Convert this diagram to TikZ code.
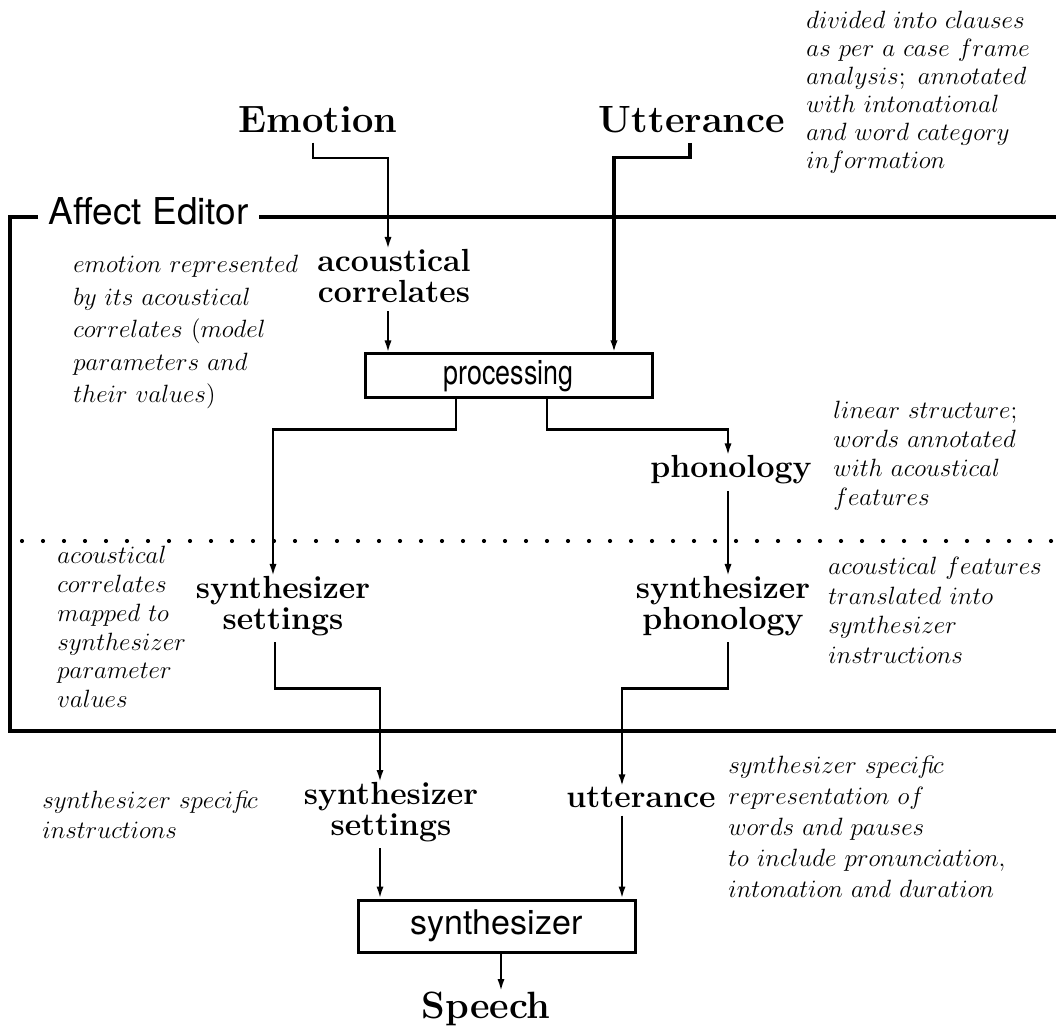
\RequirePackage{fix-cm}
\documentclass[tikz,border=0pt]{standalone}
\usepackage{fontspec}
\newfontfamily\helv{TeX Gyre Heros}
\usetikzlibrary{arrows.meta}

\tikzset{
  big/.style={font=\fontsize{19}{22}\selectfont\bfseries, inner sep=0pt},
  lbl/.style={font=\fontsize{16}{15.5}\selectfont\bfseries, align=center, inner sep=0pt},
  note/.style={font=\fontsize{12.5}{#1}\selectfont, align=left, anchor=north west, inner sep=0pt},
  blok/.style={draw, line width=1.5pt, font=\fontsize{17}{20}\selectfont\helv, inner sep=0pt},
  link/.style={line width=1.1pt, -{Latex[length=6pt,width=3.6pt]}},
  edline/.style={line width=1.6pt},
  dotrow/.style={line width=2.1pt, line cap=round, dash pattern=on 0pt off 10.5pt},
}

\begin{document}
\begin{tikzpicture}[x=0.5pt, y=-0.5pt]
    \useasboundingbox (0,0) rectangle (1056,1026);

    \node[big, anchor=base] (emo) at (318,133) {Emotion};
    \node[big, anchor=base] (utt) at (692,133) {Utterance};
    \node[note=14pt] (uttnote) at (806,11) {$divided\ into\ clauses$\\$as\ per\ a\ case\ frame$\\$analysis;\ annotated$\\$with\ intonational$\\$and\ word\ category$\\$information$};

    % affect editor frame
    \node[font=\fontsize{18.5}{20}\selectfont\helv, anchor=base west, inner sep=5pt] (ed) at (38,225) {Affect Editor};
    \draw[edline] (ed.west |- 10,217) -- (10,217) -- (10,731) -- (1056,731);
    \draw[edline] (ed.east |- 10,217) -- (1056,217);
    \draw[dotrow] (22,541) -- (1056,541);

    \node[note=16.25pt] (emonote) at (73,255) {$emotion\ represented$\\$by\ its\ acoustical$\\$correlates\ (model$\\$parameters\ and$\\$their\ values)$};
    \node[lbl, anchor=north] (acc) at (394,249) {acoustical\\correlates};
    \node[blok, minimum width=143.5pt, minimum height=22pt] (proc) at (508.5,376) {\scalebox{0.79}[1]{processing}};
    \node[lbl, anchor=base] (phon) at (731,478) {phonology};
    \node[note=14.5pt] (phonnote) at (833,401) {$linear\ structure;$\\$words\ annotated$\\$with\ acoustical$\\$features$};

    \node[lbl, anchor=north] (ss1) at (283,576) {synthesizer\\settings};
    \node[note=14.4pt] (ss1note) at (57,546) {$acoustical$\\$correlates$\\$mapped\ to$\\$synthesizer$\\$parameter$\\$values$};
    \node[lbl, anchor=north] (synph) at (723,576) {synthesizer\\phonology};
    \node[note=14.75pt] (synphnote) at (828,557) {$acoustical\ features$\\$translated\ into$\\$synthesizer$\\$instructions$};

    % below the editor
    \node[lbl, anchor=north] (ss2) at (391,782) {synthesizer\\settings};
    \node[note=15pt] (ss2note) at (42,790) {$synthesizer\ speci\mbox{\itshape fi}c$\\$instructions$};
    \node[lbl, anchor=base] (utt2) at (641,807) {utterance};
    \node[note=15.5pt] (utt2note) at (728,755) {$synthesizer\ speci\mbox{\itshape fi}c$\\$representation\ of$\\$words\ and\ pauses$\\$to\ include\ pronunciation,$\\$intonation\ and\ duration$};
    \node[blok, minimum width=138.5pt, minimum height=26pt] (synth) at (496.5,926) {synthesizer};
    \node[big, anchor=base] (speech) at (486,1018) {Speech};

    \draw[link, shorten <=4.5pt] ([xshift=-2.5pt]emo.south) -- ++(0,24) -| ([xshift=-3pt]acc.north);
    \draw[link, line width=1.6pt, shorten <=4.5pt] ([xshift=-1pt]utt.south) -- ++(0,24) -| ([xshift=52.75pt]proc.north);
    \draw[link, shorten <=4pt] ([xshift=-3pt]acc.south) -- ([xshift=-3pt]acc.south |- proc.north);
    \draw[link] ([xshift=-26.25pt]proc.south) -- ++(0,30) -| ([xshift=-5pt]ss1.north);
    \draw[link] ([xshift=19.25pt]proc.south) -- ++(0,30) -| ([xshift=-1.5pt]phon.north);
    \draw[link, shorten <=3pt] ([xshift=-1.5pt]phon.south) -- ([xshift=-1.5pt]phon.south |- synph.north);
    \draw[link, shorten <=3pt] ([xshift=-4pt]ss1.south) -- ++(0,52) -| ([xshift=-5.5pt]ss2.north);
    \draw[link, shorten <=3pt] ([xshift=2.5pt]synph.south) -- ++(0,52) -| ([xshift=-9.5pt]utt2.north);
    \draw[link, shorten <=3pt] ([xshift=-5.5pt]ss2.south) -- ([xshift=-5.5pt]ss2.south |- synth.north);
    \draw[link, shorten <=4pt] ([xshift=-9.5pt]utt2.south) -- ([xshift=-9.5pt]utt2.south |- synth.north);
    \draw[link] ([xshift=2.25pt]synth.south) -- ([xshift=2.25pt]synth.south |- speech.north);
\end{tikzpicture}
\end{document}
